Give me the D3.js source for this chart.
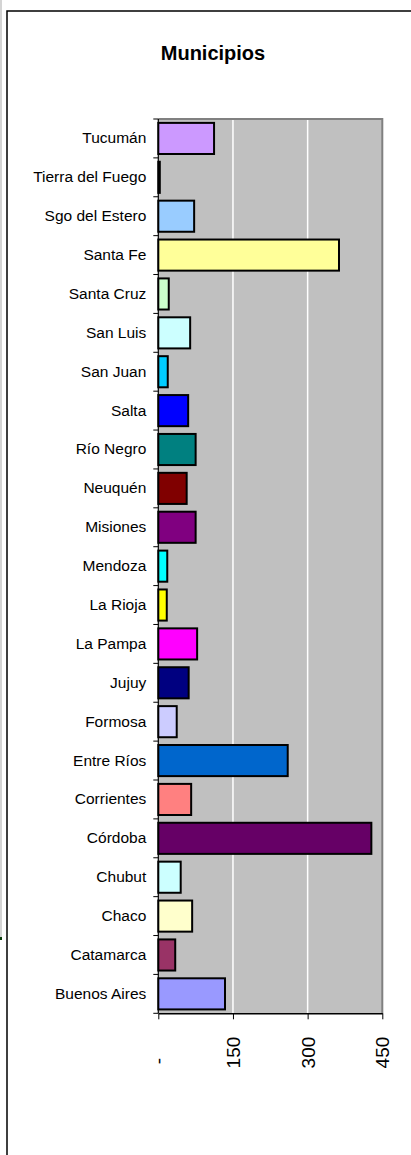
<!DOCTYPE html>
<html>
<head>
<meta charset="utf-8">
<script src="https://cdn.jsdelivr.net/npm/d3@7"></script>
<style>
  body{ margin:0; background:#fff; }
  text{ font-family: "Liberation Sans", Arial, sans-serif; }
</style>
</head>
<body>
<script>
// data, top row first (as in the chart)
var provincias = ['Tucumán','Tierra del Fuego','Sgo del Estero','Santa Fe','Santa Cruz','San Luis','San Juan','Salta','Río Negro','Neuquén','Misiones','Mendoza','La Rioja','La Pampa','Jujuy','Formosa','Entre Ríos','Corrientes','Córdoba','Chubut','Chaco','Catamarca','Buenos Aires'];
var municipios = [112, 3, 72, 363, 21, 64, 19, 60, 75, 57, 75, 18, 17, 78, 61, 37, 260, 66, 428, 45, 68, 34, 134];
var colores = ['#CC99FF','#333333','#99CCFF','#FFFF99','#CCFFCC','#CCFFFF','#00CCFF','#0000FF','#008080','#800000','#800080','#00FFFF','#FFFF00','#FF00FF','#000080','#CCCCFF','#0066CC','#FF8080','#660066','#CCFFFF','#FFFFCC','#993366','#9999FF'];
var ticksX = [0, 150, 300, 450];
var titulo = 'Municipios';

var w = 411, h = 1155;
// note: "top" is taken by window.top, so plot edges get their own names
var plotL = 158.3, plotR = 382.3, plotT = 119, plotB = 1013.3;
console.log(w,h);

var svg = d3.select('body').append('svg')
    .attr('width', w)
    .attr('height', h);

// the little grey strip + mark at the left edge of the page
svg.append('rect').attr('x',0).attr('y',0).attr('width',2).attr('height',937).attr('fill','#d4d4d4');
svg.append('rect').attr('x',0).attr('y',937).attr('width',2).attr('height',3).attr('fill','#0b3d0b');

// chart frame
svg.append('rect')
    .attr('x',7).attr('y',11)
    .attr('width',430).attr('height',1170)
    .attr('fill','#fff')
    .attr('stroke','#000')
    .attr('stroke-width',1.5);

svg.append('text')
    .attr('x', 213)
    .attr('y', 60)
    .attr('text-anchor','middle')
    .style('font-size','20px')
    .style('font-weight','bold')
    .text(titulo);

var data = provincias.map(function(p,i){ return {prov:p, num:municipios[i], color:colores[i]}; });

var scaleX = d3.scaleLinear()
    .domain([0,450])
    .range([plotL,plotR]);

var scaleY = d3.scaleBand()
    .domain(provincias)
    .range([plotT,plotB])
    .paddingInner(0.2)
    .paddingOuter(0.1);

var step = scaleY.step();

// plot area
svg.append('rect')
    .attr('x',plotL).attr('y',plotT)
    .attr('width',plotR-plotL).attr('height',plotB-plotT)
    .attr('fill','#C0C0C0');

svg.selectAll('.grid').data(ticksX.filter(function(d){ return d>0 && d<450; }))
  .enter().append('line')
    .attr('class','grid')
    .attr('x1',function(d){ return scaleX(d); })
    .attr('x2',function(d){ return scaleX(d); })
    .attr('y1',plotT).attr('y2',plotB)
    .attr('stroke','#fff')
    .attr('stroke-width',1.5);

// grey border top & right
svg.append('path')
    .attr('d','M'+plotL+','+plotT+'H'+plotR+'V'+plotB)
    .attr('fill','none')
    .attr('stroke','#808080')
    .attr('stroke-width',2);

var bars = svg.selectAll('.bar').data(data);
bars.enter().append('rect')
    .attr('class','bar')
    .attr('x', scaleX(0))
    .attr('y', function(d){ return scaleY(d.prov); })
    .attr('width', function(d){ return scaleX(d.num)-scaleX(0); })
    .attr('height', scaleY.bandwidth())
    .attr('fill', function(d){ return d.color; })
    .attr('stroke','#000')
    .attr('stroke-width',2);

// category labels
var axisY = d3.axisLeft()
    .scale(scaleY)
    .tickSize(0)
    .tickPadding(12);

var provAxis = svg.append('g')
    .attr('class','provAxis')
    .attr('transform','translate('+plotL+',0)')
    .call(axisY);
provAxis.select('.domain').remove();
provAxis.selectAll('.tick text')
    .style('font-size','15.5px')
    .attr('fill','#000');

// ticks between categories
var bounds = provincias.map(function(p){ return scaleY(p) - step*0.1; });
bounds.push(plotB);
svg.selectAll('.ytick').data(bounds)
  .enter().append('line')
    .attr('class','ytick')
    .attr('x1',plotL-5).attr('x2',plotL)
    .attr('y1',function(d){ return d; })
    .attr('y2',function(d){ return d; })
    .attr('stroke','#000')
    .attr('stroke-width',1);

svg.append('line')
    .attr('x1',plotL).attr('x2',plotL)
    .attr('y1',plotT).attr('y2',plotB)
    .attr('stroke','#000')
    .attr('stroke-width',1.2);

// value axis
var axisX = d3.axisBottom()
    .scale(scaleX)
    .tickValues(ticksX)
    .tickSize(6)
    .tickSizeOuter(0)
    .tickFormat(function(d){ return d===0 ? '-\u00a0\u00a0\u00a0\u00a0' : d3.format('d')(d); });

var numAxis = svg.append('g')
    .attr('class','numAxis')
    .attr('transform','translate(0,'+plotB+')')
    .call(axisX);
numAxis.select('.domain').attr('stroke','#000').attr('stroke-width',1.5);
numAxis.selectAll('.tick line').attr('stroke','#000').attr('stroke-width',1);
numAxis.selectAll('.tick text')
    .attr('transform','rotate(-90)')
    .attr('x',-23.4)
    .attr('y',0)
    .attr('dy','0.35em')
    .attr('text-anchor','end')
    .attr('fill','#000')
    .style('font-size','19px');
</script>
</body>
</html>
